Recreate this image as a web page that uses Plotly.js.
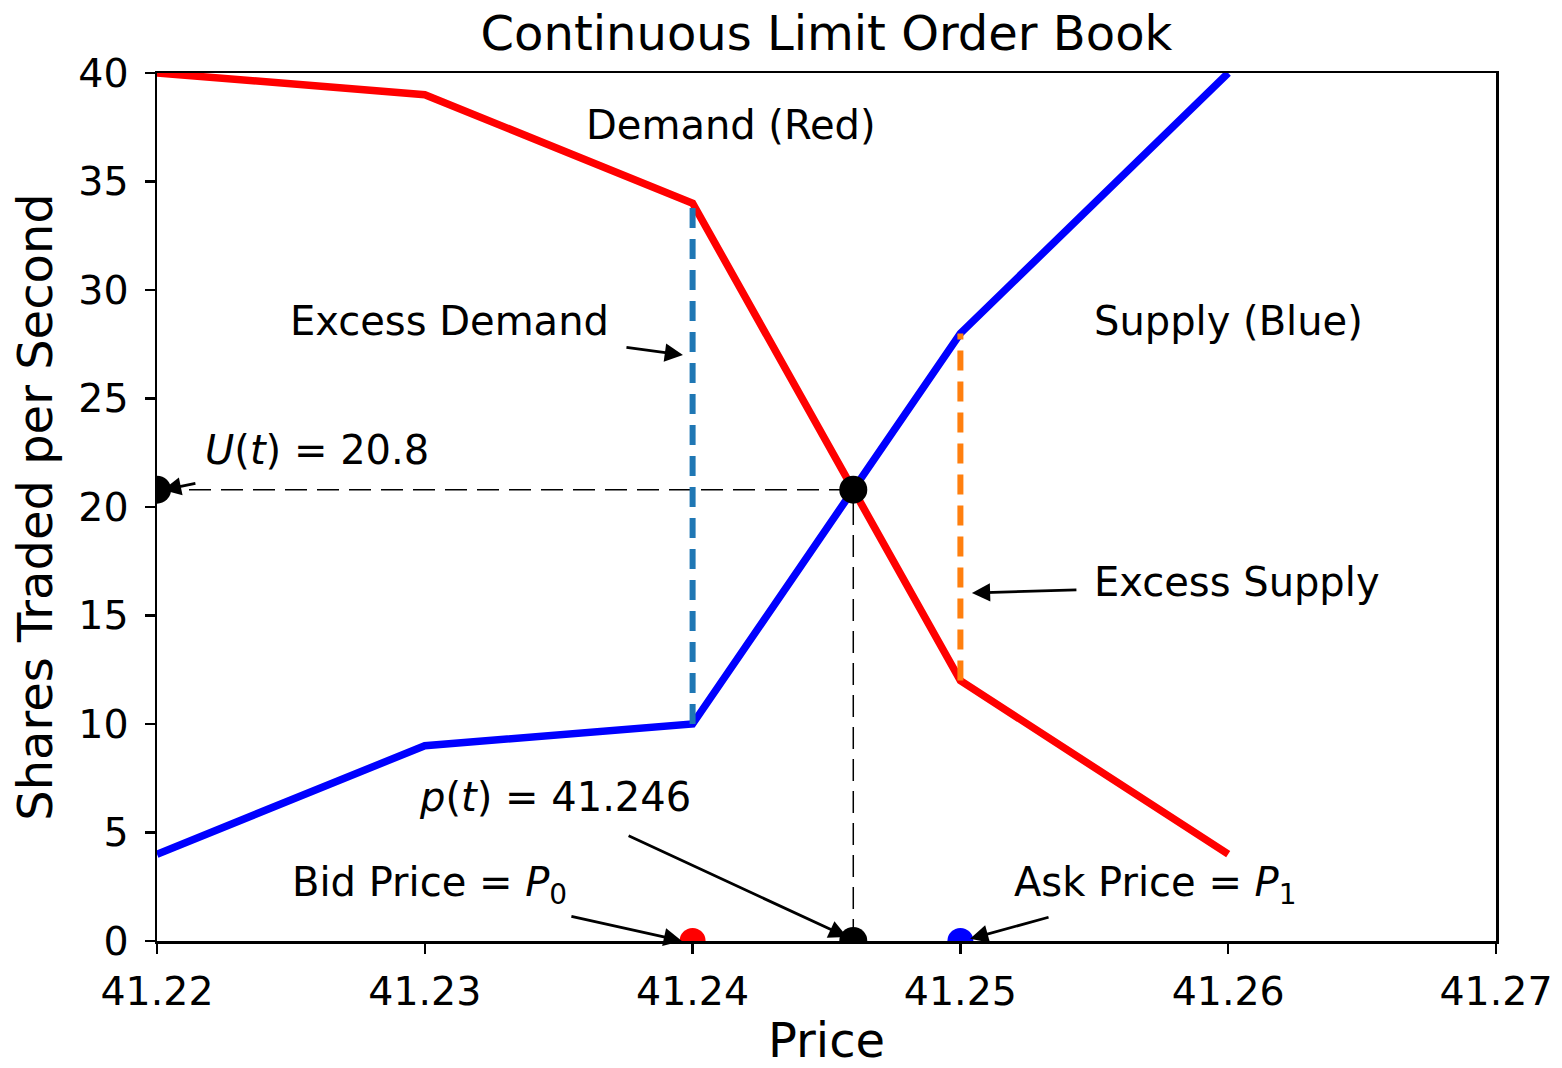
<!DOCTYPE html>
<html>
<head>
<meta charset="utf-8">
<script src="https://cdn.plot.ly/plotly-3.0.1.min.js"></script>
<style>html,body{margin:0;padding:0;background:#fff;}#chart{width:1562px;height:1068px;}</style>
</head>
<body>
<div id="chart"></div>
<script>
// ---- data ----
const price = [41.22, 41.23, 41.24, 41.25, 41.26];
const demand = [40, 39, 34, 12, 4];
const supply = [4, 9, 10, 28, 40];
const bidPrice = 41.24;
const askPrice = 41.25;
const clearingPrice = 41.246;
const clearingVolume = 20.8;
const xTickVals = [41.22, 41.23, 41.24, 41.25, 41.26, 41.27];
const yTickVals = [0, 5, 10, 15, 20, 25, 30, 35, 40];

const FONT = "DejaVu Sans, Liberation Sans, sans-serif";
const bidIdx = price.indexOf(bidPrice);
const askIdx = price.indexOf(askPrice);

const traces = [
  {x: [price[0], clearingPrice], y: [clearingVolume, clearingVolume], mode: 'lines',
   line: {color: 'black', width: 1.5, dash: '22px,10px'}},
  {x: [clearingPrice, clearingPrice], y: [0, clearingVolume], mode: 'lines',
   line: {color: 'black', width: 1.5, dash: '22px,10px'}},
  {x: price, y: demand, mode: 'lines', line: {color: '#ff0000', width: 7.5}},
  {x: price, y: supply, mode: 'lines', line: {color: '#0000ff', width: 7.5}},
  {x: [bidPrice, bidPrice], y: [supply[bidIdx], demand[bidIdx]], mode: 'lines',
   line: {color: '#1f77b4', width: 6, dash: '20px,11px'}},
  {x: [askPrice, askPrice], y: [demand[askIdx], supply[askIdx]], mode: 'lines',
   line: {color: '#ff7f0e', width: 6, dash: '20px,11px'}},
  {x: [price[0], clearingPrice, clearingPrice], y: [clearingVolume, clearingVolume, 0], mode: 'markers',
   marker: {color: 'black', size: 28}},
  {x: [bidPrice], y: [0], mode: 'markers', marker: {color: '#ff0000', size: 26}},
  {x: [askPrice], y: [0], mode: 'markers', marker: {color: '#0000ff', size: 26}}
];

function txt(text, x, y) {
  return {text: text, x: x, y: y, xref: 'x', yref: 'y', showarrow: false,
          xanchor: 'center', yanchor: 'middle', font: {family: FONT, size: 40, color: 'black'}};
}
function arr(x, y, ax, ay) {
  return {text: '', x: x, y: y, xref: 'x', yref: 'y', ax: ax, ay: ay, showarrow: true,
          arrowhead: 2, arrowsize: 1.3, arrowwidth: 2.8, arrowcolor: 'black', standoff: 0, startstandoff: 0};
}

const annotations = [
  txt('Demand (Red)', 41.24143, 37.6),
  txt('Supply (Blue)', 41.26, 28.57),
  txt('Excess Demand', 41.23094, 28.57),
  txt('Excess Supply', 41.26033, 16.54),
  txt('<i>U</i>(<i>t</i>) = 20.8', 41.22597, 22.63),
  txt('<i>p</i>(<i>t</i>) = 41.246', 41.23486, 6.64),
  txt('Bid Price = <i>P</i><sub>0</sub>', 41.23016, 2.58),
  txt('Ask Price = <i>P</i><sub>1</sub>', 41.25727, 2.58),
  arr(41.22022, 20.78, 34, -7),
  arr(41.23964, 27.0, -58, -8),
  arr(41.25043, 16.04, 106, -3),
  arr(41.24577, 0.18, -220, -102),
  arr(41.2396, 0.0, -112, -25),
  arr(41.25036, 0.1, 80, -22)
];

const axisCommon = {
  showgrid: false, zeroline: false, showline: true, mirror: true,
  linecolor: 'black', linewidth: 2.5, ticks: 'outside', ticklen: 10, tickwidth: 2.5,
  tickcolor: 'black', tickfont: {family: FONT, size: 39.5, color: 'black'}
};

const layout = {
  width: 1562, height: 1068, autosize: false,
  paper_bgcolor: 'white', plot_bgcolor: 'white',
  showlegend: false,
  margin: {l: 157, r: 66, t: 73, b: 127},
  title: {text: 'Continuous Limit Order Book', x: 0.5291, xref: 'container', xanchor: 'center',
          y: 0.969, yref: 'container', yanchor: 'middle',
          font: {family: FONT, size: 48, color: 'black'}},
  xaxis: Object.assign({}, axisCommon, {
    range: [41.22, 41.27], tickvals: xTickVals, ticktext: xTickVals.map(v => v.toFixed(2)),
    ticklabelstandoff: 4,
    title: {text: 'Price', font: {family: FONT, size: 48, color: 'black'}, standoff: 14}
  }),
  yaxis: Object.assign({}, axisCommon, {
    range: [0, 40], tickvals: yTickVals, ticktext: yTickVals.map(String),
    ticklabelstandoff: 8,
    title: {text: 'Shares Traded per Second', font: {family: FONT, size: 48, color: 'black'}, standoff: 11}
  }),
  annotations: annotations
};

Plotly.newPlot('chart', traces, layout, {displayModeBar: false, staticPlot: true});
</script>
</body>
</html>
